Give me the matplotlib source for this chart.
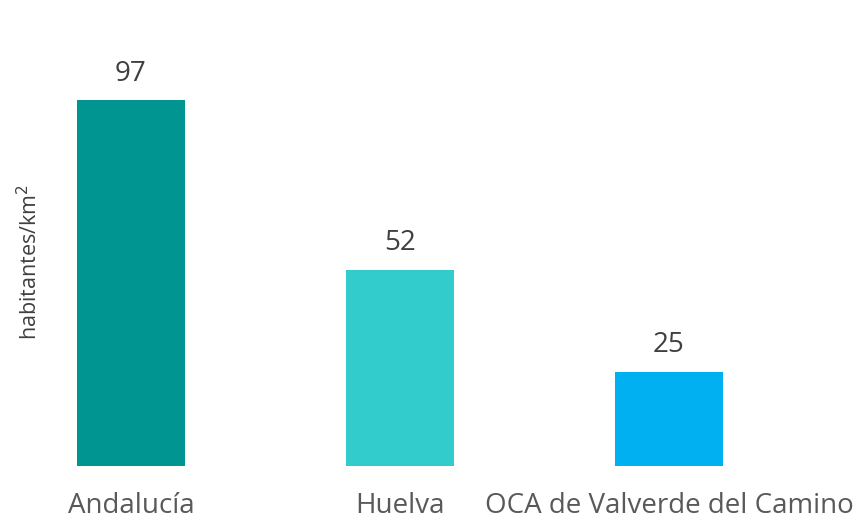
import matplotlib
matplotlib.use("Agg")
import matplotlib.pyplot as plt

# data
categories = ["Andalucía", "Huelva", "OCA de Valverde del Camino"]
density = [97, 52, 25]
colors = ["#009591", "#33CCCC", "#00B0F0"]

plt.rcParams['font.family'] = ['Open Sans', 'DejaVu Sans']

W, H = 857, 521
fig = plt.figure(figsize=(W / 100, H / 100), dpi=100)

# axes spans full width; bottom at y=466 px
ax = fig.add_axes([0.0, 1 - 466 / H, 1.0, 466 / H])
x = list(range(len(categories)))
bars = ax.bar(x, density, width=0.40, color=colors)

ax.set_xlim(-131 / 269, (W - 131) / 269)
ax.set_ylim(0, 466 / 3.77)

for b, v in zip(bars, density):
    ax.annotate(f"{v}", (b.get_x() + b.get_width() / 2, b.get_height()),
                xytext=(0, 9), textcoords="offset points",
                ha="center", va="bottom", fontsize=20, color="#404040")

ax.set_xticks(x)
ax.set_xticklabels(categories, fontsize=20, color="#595959")
ax.tick_params(axis="x", length=0, pad=19)
ax.set_yticks([])
for s in ax.spines.values():
    s.set_visible(False)

fig.text(30 / W, 1 - 262 / H, "habitantes/km$^2$", rotation=90,
         ha="center", va="center", fontsize=15.5, color="#404040")

fig.savefig("out.png", dpi=100)
